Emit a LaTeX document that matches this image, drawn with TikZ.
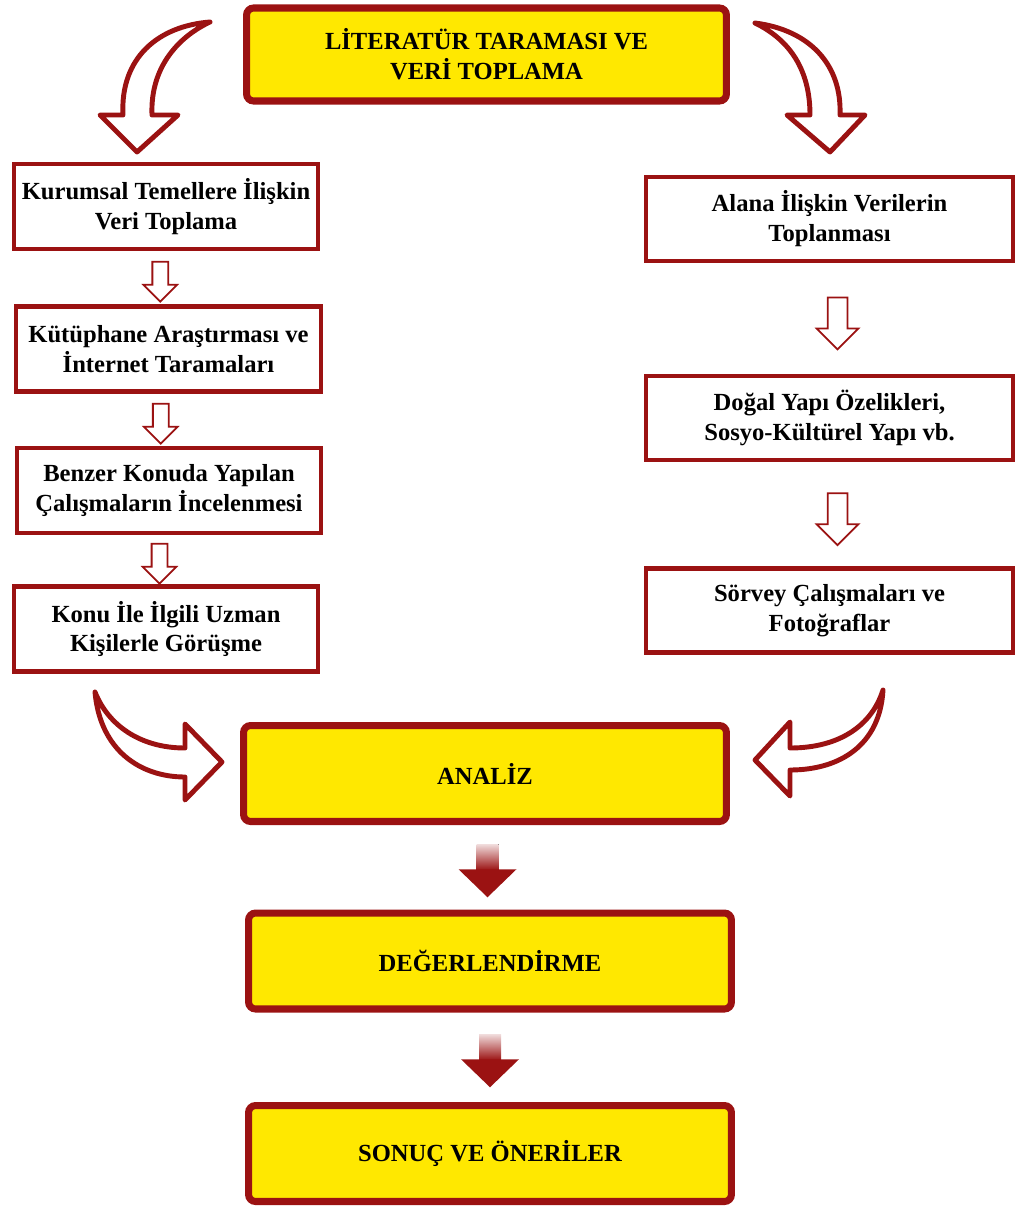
\documentclass[tikz,border=0pt]{standalone}
\usepackage{fontspec}
\setmainfont{Liberation Serif}
\usepackage{xcolor}
\usetikzlibrary{positioning,shapes.arrows,calc}
\definecolor{koyukirmizi}{RGB}{155,18,18}
\definecolor{sari}{RGB}{255,232,0}
\tikzset{
  yazi/.style={align=center, font=\bfseries\fontsize{14}{17}\selectfont},
  anakutu/.style={yazi, draw=koyukirmizi, fill=sari, line width=4pt, rounded corners=4pt, minimum width=9.6cm, minimum height=1.86cm},
  solkutu/.style={yazi, draw=koyukirmizi, fill=white, line width=2.3pt, minimum width=6.1cm, minimum height=1.7cm},
  sagkutu/.style={yazi, draw=koyukirmizi, fill=white, line width=2.3pt, minimum width=7.34cm, minimum height=1.68cm},
  kucukok/.style={single arrow, rotate=-90, draw=koyukirmizi, fill=white, line width=1pt, inner xsep=0pt, inner ysep=0.14cm, single arrow head extend=0.18cm, minimum height=0.8cm},
  buyukok/.style={kucukok, inner ysep=0.18cm, single arrow head extend=0.22cm, minimum height=1.04cm},
  govde/.style={top color=koyukirmizi!15, bottom color=koyukirmizi},
  doluok/.style={fill=koyukirmizi},
  egriok/.style={draw=koyukirmizi, fill=white, line width=2.8pt, line join=round}
}
\begin{document}
\begin{tikzpicture}[x=0.02cm, y=-0.02cm]
\useasboundingbox (0,0) rectangle (1018,1207);
\node[anakutu] at (486.5,54.5) (literatur) {LİTERATÜR TARAMASI VE\\VERİ TOPLAMA};

\node[solkutu] at (166,206.5) (kurumsal) {Kurumsal Temellere İlişkin\\Veri Toplama};
\node[solkutu] at (168.5,349) (kutuphane) {Kütüphane Araştırması ve\\İnternet Taramaları};
\node[solkutu] at (169,490.5) (benzer) {Benzer Konuda Yapılan\\Çalışmaların İncelenmesi};
\node[solkutu] at (166,629) (uzman) {Konu İle İlgili Uzman\\Kişilerle Görüşme};

\node[sagkutu] at (829.5,219) (alan) {Alana İlişkin Verilerin\\Toplanması};
\node[sagkutu] at (829.5,418) (dogal) {Doğal Yapı Özelikleri,\\Sosyo-Kültürel Yapı vb.};
\node[sagkutu] at (829.5,610.5) (sorvey) {Sörvey Çalışmaları ve\\Fotoğraflar};

\node[anakutu, minimum width=9.66cm, minimum height=1.92cm] at (485,773.5) (analiz) {ANALİZ};
\node[anakutu, minimum width=9.66cm, minimum height=1.92cm] at (490,961) (degerlendirme) {DEĞERLENDİRME};
\node[anakutu, minimum width=9.66cm, minimum height=1.92cm] at (490,1153.5) (sonuc) {SONUÇ VE ÖNERİLER};

% kutular arasi oklar
\node[kucukok] at ($(kurumsal.south)!0.5!(kutuphane.north)+(-7,0)$) (ok1) {};
\node[kucukok] at ($(kutuphane.south)!0.5!(benzer.north)+(-8,0)$) (ok2) {};
\node[kucukok] at ($(benzer.south)!0.5!(uzman.north)+(-8,0)$) (ok3) {};
\node[buyukok] at ($(alan.south)!0.5!(dogal.north)+(8,0)$) (ok4) {};
\node[buyukok] at ($(dogal.south)!0.5!(sorvey.north)+(8,0)$) (ok5) {};

% dolu oklar
\foreach \ust/\alt in {analiz/degerlendirme, degerlendirme/sonuc}{
  \coordinate (orta) at ($(\ust.south)!0.5!(\alt.north)$);
  \fill[govde] ($(orta)+(-11,-23)$) rectangle ($(orta)+(11,3)$);
  \fill[doluok] ($(orta)+(-29,2)$) -- ($(orta)+(29,2)$) -- ($(orta)+(0,30)$) -- cycle;
}

% egri oklar
\draw[egriok] (100,115) -- (123,115) .. controls (120,58) and (158,26) .. (210,22)
  .. controls (180,36) and (150,66) .. (152,115) -- (178,115) -- (137,152) -- cycle;
\draw[egriok] (787,115) -- (810,115) .. controls (810,70) and (790,40) .. (755,23)
  .. controls (810,30) and (842,65) .. (840,115) -- (865,115) -- (830,152) -- cycle;
\draw[egriok] (185,724) -- (185,748) .. controls (140,748) and (108,725) .. (95,692)
  .. controls (100,750) and (140,777) .. (185,777) -- (185,800) -- (222,762) -- cycle;
\draw[egriok] (790,722) -- (790,748) .. controls (840,748) and (872,725) .. (883,690)
  .. controls (880,745) and (840,770) .. (790,770) -- (790,796) -- (755,760) -- cycle;
\end{tikzpicture}
\end{document}
